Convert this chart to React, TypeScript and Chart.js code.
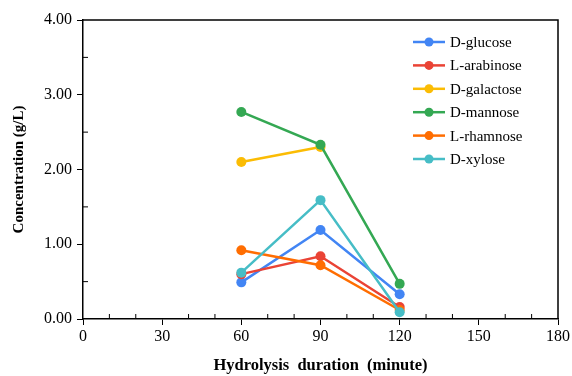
import React, { useEffect, useRef } from "react";
import { Chart, registerables } from "chart.js";

Chart.register(...registerables);

const durations = [60, 90, 120];
const seriesNames = ["D-glucose", "L-arabinose", "D-galactose", "D-mannose", "L-rhamnose", "D-xylose"];
const glucose = [0.49, 1.19, 0.33];
const arabinose = [0.6, 0.84, 0.16];
const galactose = [2.1, 2.3, null];
const mannose = [2.77, 2.33, 0.47];
const rhamnose = [0.92, 0.72, 0.12];
const xylose = [0.62, 1.59, 0.09];
const seriesColors = ["#4285F4", "#EA4335", "#FBBC04", "#34A853", "#FF6D01", "#46BDC6"];
const xTickLabels = [0, 30, 60, 90, 120, 150, 180];
const yTickLabels = [0, 1, 2, 3, 4];

const FONT = "'Liberation Serif', 'Times New Roman', serif";

const frameAndMinor = {
  id: "frameAndMinor",
  afterDraw(chart: any) {
    const { ctx, chartArea, scales } = chart;
    const { left, right, top, bottom } = chartArea;
    ctx.save();
    ctx.strokeStyle = "#000";
    ctx.lineWidth = 1.5;
    ctx.beginPath();
    ctx.moveTo(left, top);
    ctx.lineTo(right, top);
    ctx.lineTo(right, bottom);
    ctx.stroke();
    ctx.lineWidth = 1;
    for (let v = 0; v <= 180; v += 10) {
      if (v % 30 === 0) continue;
      const x = scales.x.getPixelForValue(v);
      ctx.beginPath();
      ctx.moveTo(x, bottom);
      ctx.lineTo(x, bottom - 5);
      ctx.stroke();
    }
    for (let v = 0.5; v < 4; v += 1) {
      const y = scales.y.getPixelForValue(v);
      ctx.beginPath();
      ctx.moveTo(left, y);
      ctx.lineTo(left + 5, y);
      ctx.stroke();
    }
    const lx = 413;
    let ly = 42;
    ctx.font = `15px ${FONT}`;
    ctx.textBaseline = "middle";
    ctx.textAlign = "left";
    chart.data.datasets.forEach((ds: any) => {
      ctx.strokeStyle = ds.borderColor;
      ctx.lineWidth = 2.5;
      ctx.beginPath();
      ctx.moveTo(lx, ly);
      ctx.lineTo(lx + 32, ly);
      ctx.stroke();
      ctx.fillStyle = ds.borderColor;
      ctx.beginPath();
      ctx.arc(lx + 16, ly, 4.5, 0, Math.PI * 2);
      ctx.fill();
      ctx.fillStyle = "#000";
      ctx.fillText(ds.label, lx + 37, ly + 1);
      ly += 23.4;
    });
    ctx.restore();
  },
};

export default function App() {
  const ref = useRef<HTMLCanvasElement>(null);
  useEffect(() => {
    document.body.style.margin = "0";
    const all = [glucose, arabinose, galactose, mannose, rhamnose, xylose];
    const chart = new Chart(ref.current!, {
      type: "line",
      data: {
        datasets: all.map((vals, i) => ({
          label: seriesNames[i],
          data: durations.map((d, j) => ({ x: d, y: vals[j] as any })),
          borderColor: seriesColors[i],
          backgroundColor: seriesColors[i],
          borderWidth: 2.5,
          pointRadius: 5,
          pointHoverRadius: 5,
          pointBorderWidth: 0,
          spanGaps: false,
          order: -i,
        })),
      },
      options: {
        animation: false,
        responsive: false,
        layout: { padding: { top: 20, right: 14, left: 0, bottom: 0 } },
        plugins: { legend: { display: false }, tooltip: { enabled: false } },
        scales: {
          x: {
            type: "linear",
            min: 0,
            max: 180,
            afterFit: (s: any) => { s.height = 57; },
            afterBuildTicks: (s: any) => { s.ticks = xTickLabels.map((v) => ({ value: v })); },
            ticks: {
              color: "#000",
              font: { family: FONT, size: 16 },
              padding: 2,
              maxRotation: 0,
              callback: (v: any) => String(v),
            },
            grid: { drawOnChartArea: false, tickLength: 6, color: "#000", lineWidth: 1 },
            border: { color: "#000", width: 1.5 },
            title: {
              display: true,
              text: "Hydrolysis  duration  (minute)",
              color: "#000",
              font: { family: FONT, size: 16.5, weight: "bold" },
              padding: { top: 8, bottom: 0 },
            },
          },
          y: {
            type: "linear",
            min: 0,
            max: 4,
            afterFit: (s: any) => { s.width = 83; },
            afterBuildTicks: (s: any) => { s.ticks = yTickLabels.map((v) => ({ value: v })); },
            ticks: {
              color: "#000",
              font: { family: FONT, size: 16 },
              padding: 5,
              callback: (v: any) => Number(v).toFixed(2),
            },
            grid: { drawOnChartArea: false, tickLength: 6, color: "#000", lineWidth: 1 },
            border: { color: "#000", width: 1.5 },
            title: {
              display: true,
              text: "Concentration (g/L)",
              color: "#000",
              font: { family: FONT, size: 15, weight: "bold" },
              padding: { top: 10, bottom: 4 },
            },
          },
        },
      },
      plugins: [frameAndMinor],
    } as any);
    return () => chart.destroy();
  }, []);
  return (
    <div style={{ position: "absolute", left: 0, top: 0, width: 572, height: 376, background: "#fff" }}>
      <canvas ref={ref} width={572} height={376} style={{ width: 572, height: 376 }} />
    </div>
  );
}
